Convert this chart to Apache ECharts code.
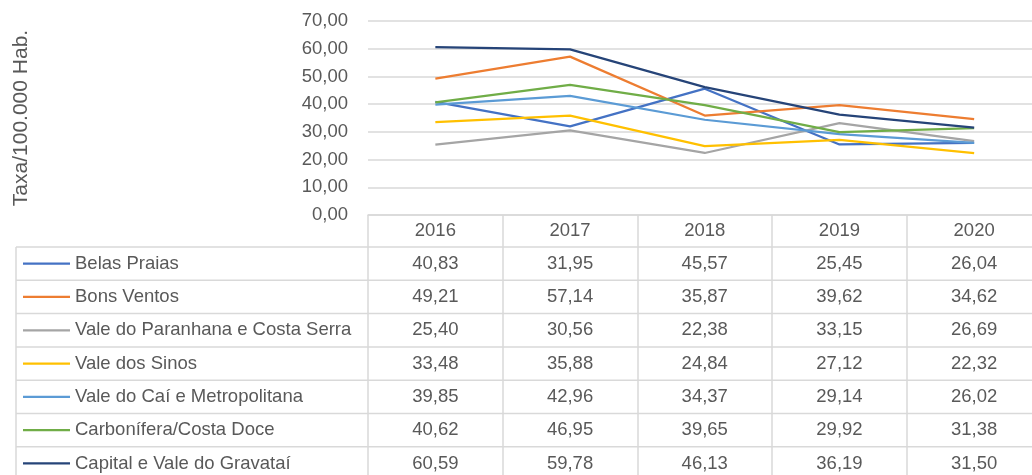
<!DOCTYPE html>
<html>
<head>
<meta charset="utf-8">
<script src="https://cdn.jsdelivr.net/npm/echarts@6/dist/echarts.min.js"></script>
<style>
  html, body { margin: 0; padding: 0; background: #fff; }
  #chart { width: 1032px; height: 475px; }
</style>
</head>
<body>
<div id="chart"></div>
<script>
// dados (taxa por 100.000 hab.)
const years = ['2016', '2017', '2018', '2019', '2020']
const regionNames = [
  'Belas Praias',
  'Bons Ventos',
  'Vale do Paranhana e Costa Serra',
  'Vale dos Sinos',
  'Vale do Caí e Metropolitana',
  'Carbonífera/Costa Doce',
  'Capital e Vale do Gravataí'
]
const belasPraias = [40.83, 31.95, 45.57, 25.45, 26.04]
const bonsVentos = [49.21, 57.14, 35.87, 39.62, 34.62]
const valeParanhana = [25.40, 30.56, 22.38, 33.15, 26.69]
const valeSinos = [33.48, 35.88, 24.84, 27.12, 22.32]
const valeCai = [39.85, 42.96, 34.37, 29.14, 26.02]
const carbonifera = [40.62, 46.95, 39.65, 29.92, 31.38]
const capitalGravatai = [60.59, 59.78, 46.13, 36.19, 31.50]
const yTicks = [0, 10, 20, 30, 40, 50, 60, 70]

const seriesValues = [belasPraias, bonsVentos, valeParanhana, valeSinos, valeCai, carbonifera, capitalGravatai]
const colors = ['#4472C4', '#ED7D31', '#A5A5A5', '#FFC000', '#5B9BD5', '#70AD47', '#264478']

const textColor = '#595959'
const lineColor = '#D9D9D9'
const font = 'Liberation Sans'

function fmt (v) {
  return v.toFixed(2).replace('.', ',')
}

const chart = echarts.init(document.getElementById('chart'))

chart.setOption({
  animation: false,
  color: colors,
  grid: { left: 368, right: -9.5, top: 21, bottom: 260, outerBoundsMode: 'none', containLabel: false },
  xAxis: {
    type: 'category',
    data: years,
    boundaryGap: true,
    axisLine: { show: true, lineStyle: { color: lineColor, width: 1.5 } },
    axisTick: { show: true, length: 262, lineStyle: { color: lineColor, width: 1.5 } },
    axisLabel: { color: textColor, fontSize: 18.5, fontFamily: font, margin: 6 }
  },
  yAxis: {
    type: 'value',
    min: yTicks[0],
    max: yTicks[yTicks.length - 1],
    interval: 10,
    name: 'Taxa/100.000 Hab.',
    nameLocation: 'middle',
    nameRotate: 90,
    nameGap: 336,
    nameTextStyle: { color: textColor, fontSize: 21, fontFamily: font },
    axisLine: { show: false },
    axisTick: { show: false },
    axisLabel: { color: textColor, fontSize: 18.5, fontFamily: font, margin: 20, formatter: fmt },
    splitLine: { lineStyle: { color: lineColor, width: 1.5 } }
  },
  series: seriesValues.map((vals, i) => ({
    name: regionNames[i],
    type: 'line',
    data: vals,
    symbol: 'none',
    lineStyle: { width: 2.25 }
  }))
})

// tabela de dados abaixo do gráfico
const tableTop = 247
const rowH = 33.3
const tableLeft = 16
const graphic = []
for (let r = 0; r < regionNames.length; r++) {
  const y0 = tableTop + r * rowH
  const cy = y0 + rowH / 2
  graphic.push({
    type: 'line',
    shape: { x1: tableLeft, y1: y0, x2: 1032, y2: y0 },
    style: { stroke: lineColor, lineWidth: 1.5 }
  })
  graphic.push({
    type: 'line',
    shape: { x1: 23, y1: cy, x2: 70, y2: cy },
    style: { stroke: colors[r], lineWidth: 2.25 }
  })
  graphic.push({
    type: 'text',
    x: 75,
    y: cy,
    style: { text: regionNames[r], fill: textColor, font: '18.5px "' + font + '"', textVerticalAlign: 'middle' }
  })
  for (let c = 0; c < years.length; c++) {
    const x = chart.convertToPixel({ xAxisIndex: 0 }, years[c])
    graphic.push({
      type: 'text',
      x: x,
      y: cy,
      style: { text: fmt(seriesValues[r][c]), fill: textColor, font: '18.5px "' + font + '"', textAlign: 'center', textVerticalAlign: 'middle' }
    })
  }
}
graphic.push({
  type: 'line',
  shape: { x1: tableLeft, y1: tableTop, x2: tableLeft, y2: 475 },
  style: { stroke: lineColor, lineWidth: 1.5 }
})
chart.setOption({ graphic: graphic })
</script>
</body>
</html>
